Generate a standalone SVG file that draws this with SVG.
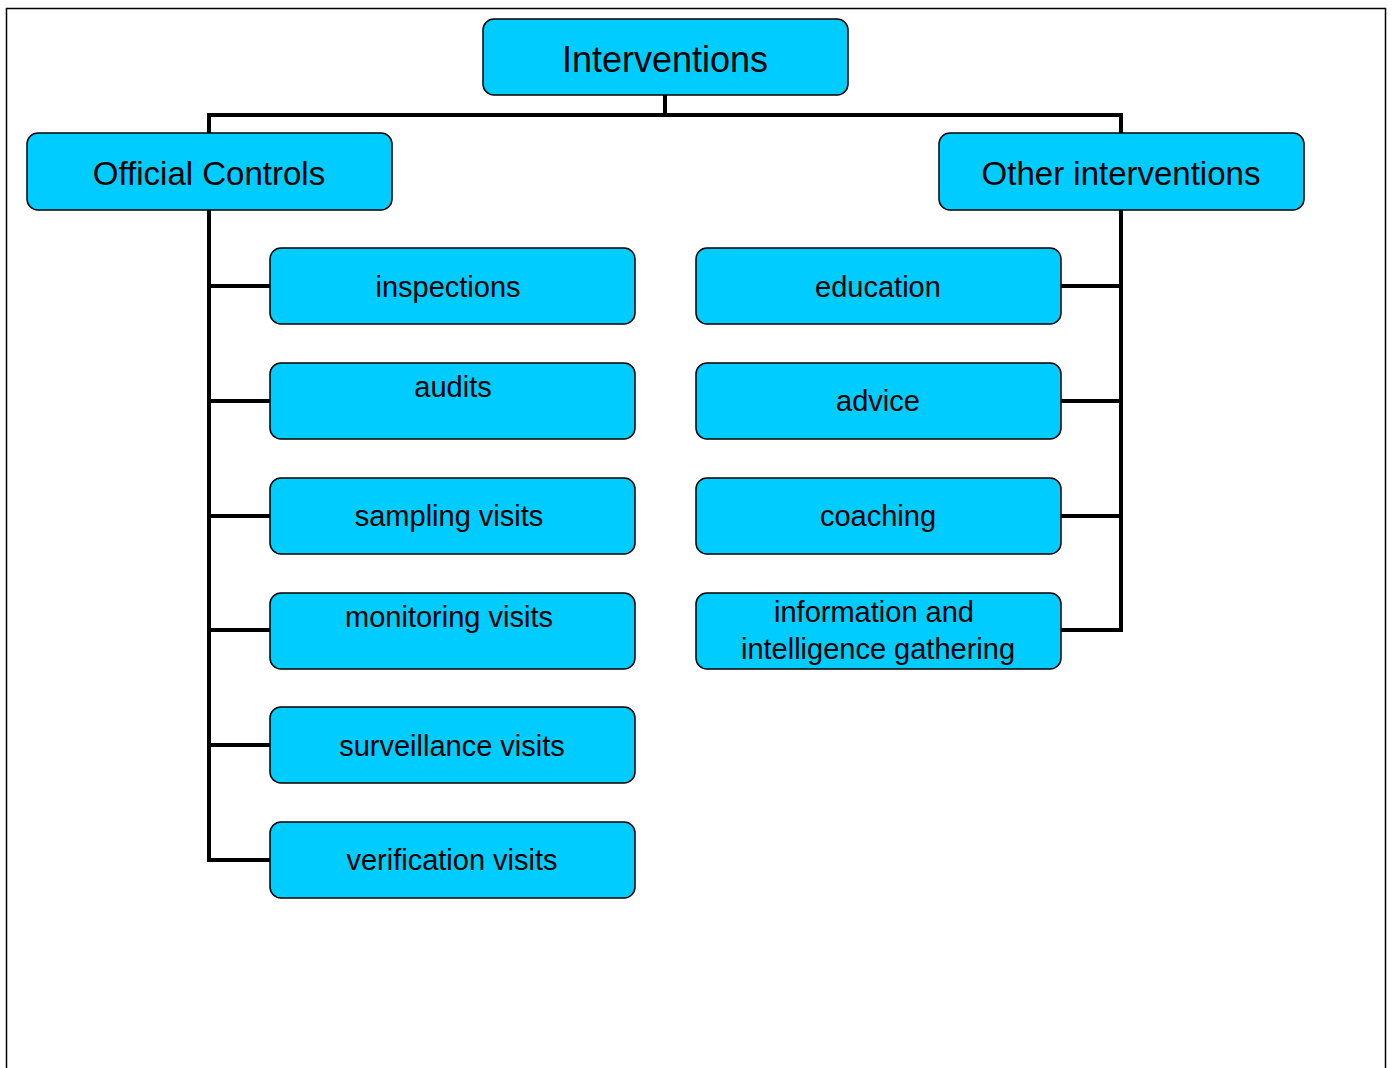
<svg xmlns="http://www.w3.org/2000/svg" width="1392" height="1068" viewBox="0 0 1392 1068">
<style>
.box{fill:#00ccff;stroke:#000;stroke-width:1.5}
.t{font-family:"Liberation Sans",Arial,sans-serif;fill:#000;text-anchor:middle}
.top{font-size:36px}
.big{font-size:33px}
.sm{font-size:29px}
.c{fill:none;stroke:#000;stroke-width:4}
</style>
<rect x="0" y="0" width="1392" height="1068" fill="#fff"/>
<path d="M6.5 1070 V8.5 H1385.5 V1070" fill="none" stroke="#000" stroke-width="1.5"/>
<g id="connectors">
<path class="c" d="M665 95 V115 M209 133 V115 H1121 V133"/>
<path class="c" d="M209 210 V860 H270 M209 286 H270 M209 401 H270 M209 516 H270 M209 630 H270 M209 745 H270"/>
<path class="c" d="M1121 210 V630 H1061 M1121 286 H1061 M1121 401 H1061 M1121 516 H1061"/>
</g>
<g id="n-interventions"><rect class="box" x="483" y="19" width="365" height="76" rx="11"/><text class="t top" x="665" y="72">Interventions</text></g>
<g id="n-official"><rect class="box" x="27" y="133" width="365" height="77" rx="11"/><text class="t big" x="209" y="185">Official Controls</text></g>
<g id="n-other"><rect class="box" x="939" y="133" width="365" height="77" rx="11"/><text class="t big" x="1121" y="185">Other interventions</text></g>
<g id="n-inspections"><rect class="box" x="270" y="248" width="365" height="76" rx="11"/><text class="t sm" x="448" y="297">inspections</text></g>
<g id="n-audits"><rect class="box" x="270" y="363" width="365" height="76" rx="11"/><text class="t sm" x="453" y="397">audits</text></g>
<g id="n-sampling"><rect class="box" x="270" y="478" width="365" height="76" rx="11"/><text class="t sm" x="449" y="526">sampling visits</text></g>
<g id="n-monitoring"><rect class="box" x="270" y="593" width="365" height="76" rx="11"/><text class="t sm" x="449" y="627">monitoring visits</text></g>
<g id="n-surveillance"><rect class="box" x="270" y="707" width="365" height="76" rx="11"/><text class="t sm" x="452" y="756">surveillance visits</text></g>
<g id="n-verification"><rect class="box" x="270" y="822" width="365" height="76" rx="11"/><text class="t sm" x="452" y="870">verification visits</text></g>
<g id="n-education"><rect class="box" x="696" y="248" width="365" height="76" rx="11"/><text class="t sm" x="878" y="297">education</text></g>
<g id="n-advice"><rect class="box" x="696" y="363" width="365" height="76" rx="11"/><text class="t sm" x="878" y="411">advice</text></g>
<g id="n-coaching"><rect class="box" x="696" y="478" width="365" height="76" rx="11"/><text class="t sm" x="878" y="526">coaching</text></g>
<g id="n-information"><rect class="box" x="696" y="593" width="365" height="76" rx="11"/><text class="t sm" x="874" y="622">information and</text><text class="t sm" x="878" y="659">intelligence gathering</text></g>
</svg>
